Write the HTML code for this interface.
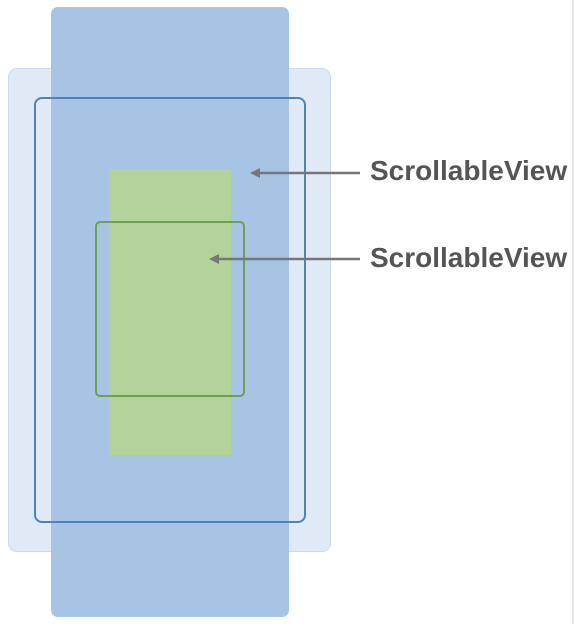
<!DOCTYPE html>
<html><head><meta charset="utf-8"><style>
body{margin:0;width:574px;height:624px;background:#fff;overflow:hidden;position:relative;font-family:"Liberation Sans",sans-serif}
div{position:absolute;box-sizing:border-box}
.lbl{font-weight:bold;font-size:28px;color:#555;left:370px;white-space:nowrap;letter-spacing:0px}
</style></head><body>
<div style="left:8px;top:68px;width:323px;height:484px;background:#e0eaf6;border:1.5px solid #c8daee;border-radius:9px"></div>
<div style="left:51px;top:7px;width:238px;height:610px;background:#a7c4e4;border-radius:7px"></div>
<div style="left:34px;top:97px;width:272px;height:426px;border:2px solid #4f83b8;border-radius:8px"></div>
<div style="left:109px;top:169px;width:122px;height:286px;background:#b4d39a;border-radius:2px"></div>
<div style="left:95px;top:221px;width:150px;height:176px;border:2px solid #6e9f55;border-radius:5px"></div>
<svg width="574" height="624" style="position:absolute;left:0;top:0">
<g stroke="#777" stroke-width="2.5" fill="#777"><line x1="360" y1="173" x2="258" y2="173"/><polygon points="250,173 260,168 260,178" stroke="none"/></g>
<g stroke="#777" stroke-width="2.5" fill="#777"><line x1="360" y1="259" x2="217" y2="259"/><polygon points="209,259 219,254 219,264" stroke="none"/></g>
<line x1="573" y1="0" x2="573" y2="624" stroke="#ccc" stroke-width="1"/>
</svg>
<div class="lbl" style="top:155px">ScrollableView</div>
<div class="lbl" style="top:242px">ScrollableView</div>
</body></html>
